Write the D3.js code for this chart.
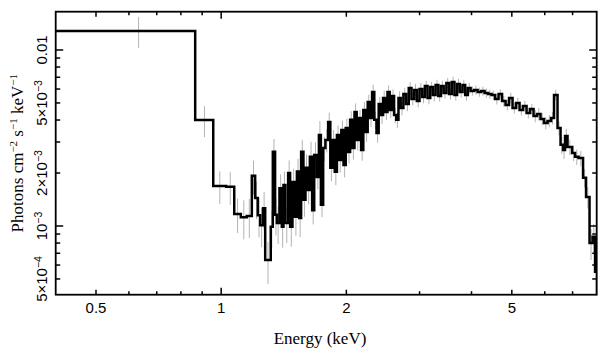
<!DOCTYPE html>
<html><head><meta charset="utf-8">
<script src="https://cdn.jsdelivr.net/npm/d3@7"></script>
<style>body{margin:0;background:#fff} svg{display:block}</style>
</head><body><svg id="c" width="609" height="357"></svg>
<script>
// Bin edges (keV)
const binEdges=[0.40,0.866,0.957,1.028,1.075,1.115,1.152,1.185,1.207,1.225,1.241,1.261,1.276,1.316,1.331,1.348,1.361,1.381,1.399,1.412,1.427,1.449,1.465,1.484,1.504,1.521,1.540,1.557,1.577,1.595,1.613,1.634,1.655,1.674,1.698,1.718,1.737,1.759,1.781,1.808,
1.8302,1.8526,1.8753,1.8983,1.9215,1.9451,1.9689,1.9930,2.0174,2.0421,2.0671,2.0924,2.1180,2.1440,2.1702,2.1968,2.2237,2.2510,2.2785,2.3064,2.3347,2.3633,2.3922,2.4215,2.4512,2.4812,2.5116,2.5423,2.5735,2.6050,2.6369,2.6692,2.7022,
2.7427,2.7838,2.8255,2.8679,2.9109,2.9545,2.9988,3.0438,3.0894,3.1357,3.1827,3.2304,3.2788,3.3280,3.3779,3.4285,3.4799,3.5321,3.5850,3.6387,3.6932,3.7486,3.8048,3.8618,3.9197,3.980,
4.058,4.137,4.217,4.300,4.384,4.470,4.557,4.646,4.737,4.830,4.924,5.020,5.119,5.219,5.321,5.425,5.531,5.639,5.749,5.861,5.976,6.094,6.213,6.316,6.440,6.549,6.640,6.714,6.807,6.980,7.096,7.235,7.418,7.542,7.689,7.817,7.928,8.0];
// Photons cm^-2 s^-1 keV^-1 per bin
const fluxValues=[0.01283,0.0040,0.00169,0.00167,0.00117,0.00112,0.00114,0.00193,0.00144,0.00115,0.00101,0.00126,0.00064,
0.00099,0.00264,0.00116,0.00104,0.00164,0.00099,0.00171,0.00104,0.00200,0.00099,0.00178,0.00113,0.00204,0.00111,0.00264,0.00141,0.00214,0.00160,0.00247,0.00123,0.00253,0.00190,0.00329,0.00132,0.00277,0.00308,
0.00390,0.00214,0.00308,0.00203,0.00329,0.00237,0.00351,0.00222,0.00360,0.00263,0.00401,0.00277,0.00444,0.00308,0.00411,0.00270,0.00456,0.00342,0.00507,0.00411,0.00577,0.00401,0.00338,0.00493,0.00427,0.00534,0.00444,0.00577,0.00456,0.00548,0.00427,0.00401,0.00534,
0.00468,0.00562,0.00493,0.00608,0.00527,0.00593,0.00513,0.00600,0.00541,0.00625,0.00534,0.00616,0.00555,0.00633,0.00548,0.00625,0.00570,0.00649,0.00562,0.00658,0.00555,0.00641,0.00577,0.00633,0.00555,0.00608,
0.00585,0.00593,0.00577,0.00585,0.00570,0.00562,
0.00555,0.00527,0.00562,0.00513,0.00487,0.00534,0.00468,0.00500,0.00456,0.00481,0.00439,0.00462,0.00422,0.00433,0.00406,0.00385,0.00395,0.00411,
0.00555,0.00360,0.00289,0.00270,0.00325,0.00281,0.00260,0.00247,0.00243,0.00188,0.00146,0.00080,0.00087,0.00055];
// relative 1-sigma errors per bin
const relErrors=[0.20,0.20,0.21,0.21,0.22,0.25,0.25,0.22,0.24,0.25,0.25,0.24,0.27,
0.24,0.18,0.24,0.24,0.20,0.24,0.19,0.23,0.18,0.23,0.19,0.22,0.18,0.22,0.17,0.20,0.19,0.17,0.22,0.17,0.18,0.15,0.20,0.15,0.16,0.15,
0.13,0.16,0.14,0.16,0.13,0.15,0.13,0.15,0.13,0.14,0.12,0.14,0.12,0.13,0.11,0.13,0.11,0.12,0.10,0.11,0.10,0.11,0.12,0.10,0.11,0.10,0.10,0.09,0.10,0.09,0.10,0.10,0.09,
0.09,0.08,0.09,0.08,0.08,0.08,0.08,0.08,0.08,0.07,0.08,0.07,0.08,0.07,0.07,0.07,0.07,0.07,0.07,0.07,0.07,0.07,0.07,0.07,0.07,0.07,
0.06,0.06,0.06,0.06,0.06,0.06,
0.06,0.07,0.06,0.07,0.07,0.07,0.07,0.07,0.07,0.07,0.07,0.07,0.08,0.08,0.08,0.08,0.08,0.08,
0.07,0.09,0.11,0.11,0.10,0.10,0.10,0.10,0.10,0.12,0.14,0.20,0.18,0.25];

const xDomain=[0.4,8.0];
const yDomain=[4.07e-4,0.0165];
const xLabelTicks=[0.5,1,2,5];
const xTickLabels=["0.5","1","2","5"];
const xDecadeTicks=[1];
const xMinorTicks=[0.6,0.7,0.8,0.9,3,4,6,7];
const yLabelTicks=[0.01,5e-3,2e-3,1e-3,5e-4];
const yTickMantissa=["0.01","5×10","2×10","10","5×10"];
const yTickExponent=["","−3","−3","−3","−4"];
const yDecadeTicks=[0.01,1e-3];
const yMinorTicks=[6e-4,7e-4,8e-4,9e-4,3e-3,4e-3,6e-3,7e-3,8e-3,9e-3];

if(binEdges.length!==fluxValues.length+1||relErrors.length!==fluxValues.length)
  throw new Error("length mismatch "+binEdges.length+" "+fluxValues.length+" "+relErrors.length);

const L=55.7,R=596.7,T=11.7,B=294.7;
const svg=d3.select("#c");
const x=d3.scaleLog().domain(xDomain).range([L,R]);
const y=d3.scaleLog().domain(yDomain).range([B,T]);

const bins=fluxValues.map((v,i)=>({e0:binEdges[i],e1:binEdges[i+1],v,r:relErrors[i]}));

svg.append("defs").append("clipPath").attr("id","pc").append("rect")
  .attr("x",L).attr("y",T).attr("width",R-L).attr("height",B-T);
const g=svg.append("g").attr("clip-path","url(#pc)");

g.selectAll("line.err").data(bins).enter().append("line")
  .attr("x1",d=>x((d.e0+d.e1)/2)).attr("x2",d=>x((d.e0+d.e1)/2))
  .attr("y1",d=>y(d.v*(1+d.r))).attr("y2",d=>y(d.v*(1-d.r)))
  .attr("stroke","#b3b3b3").attr("stroke-width",1);

const pts=bins.flatMap(d=>[[d.e0,d.v],[d.e1,d.v]]);
g.append("path").attr("d",d3.line().x(d=>x(d[0])).y(d=>y(d[1]))(pts))
  .attr("fill","none").attr("stroke","#000").attr("stroke-width",2.5).attr("stroke-linejoin","miter");

// frame
svg.append("rect").attr("x",L).attr("y",T).attr("width",R-L).attr("height",B-T)
  .attr("fill","none").attr("stroke","#000").attr("stroke-width",1.8);

const tk=svg.append("g").attr("stroke","#000").attr("stroke-width",1.5);
function xt(v,len){
  tk.append("line").attr("x1",x(v)).attr("x2",x(v)).attr("y1",B).attr("y2",B-len);
  tk.append("line").attr("x1",x(v)).attr("x2",x(v)).attr("y1",T).attr("y2",T+len);
}
function yt(v,len){
  tk.append("line").attr("x1",L).attr("x2",L+len).attr("y1",y(v)).attr("y2",y(v));
  tk.append("line").attr("x1",R).attr("x2",R-len).attr("y1",y(v)).attr("y2",y(v));
}
xLabelTicks.forEach(v=>xt(v,xDecadeTicks.includes(v)?7:5));
xMinorTicks.forEach(v=>xt(v,3.5));
yLabelTicks.forEach(v=>yt(v,yDecadeTicks.includes(v)?7.5:4.5));
yMinorTicks.forEach(v=>yt(v,4.5));

const sans="'Liberation Sans', Arial, Helvetica, sans-serif";
const serif="'Liberation Serif', 'Times New Roman', Times, serif";

xLabelTicks.forEach((v,i)=>{
  svg.append("text").attr("x",x(v)).attr("y",313).attr("text-anchor","middle")
    .attr("font-family",sans).attr("font-size",15).text(xTickLabels[i]);
});
yLabelTicks.forEach((v,i)=>{
  const t=svg.append("text").attr("transform",`translate(47,${y(v)}) rotate(-90)`)
    .attr("text-anchor","middle").attr("font-family",sans).attr("font-size",15);
  t.append("tspan").text(yTickMantissa[i]);
  if(yTickExponent[i]) t.append("tspan").attr("font-size",10.5).attr("dy",-5.5).text(yTickExponent[i]);
});

svg.append("text").attr("x",320).attr("y",343.5).attr("text-anchor","middle")
  .attr("font-family",serif).attr("font-size",17).text("Energy (keV)");

const yt2=svg.append("text").attr("transform",`translate(23,${(T+B)/2}) rotate(-90)`)
  .attr("text-anchor","middle").attr("font-family",serif).attr("font-size",17);
yt2.append("tspan").text("Photons cm");
yt2.append("tspan").attr("font-size",11).attr("dy",-6).text("−2");
yt2.append("tspan").attr("dy",6).text(" s");
yt2.append("tspan").attr("font-size",11).attr("dy",-6).text("−1");
yt2.append("tspan").attr("dy",6).text(" keV");
yt2.append("tspan").attr("font-size",11).attr("dy",-6).text("−1");
</script></body></html>
